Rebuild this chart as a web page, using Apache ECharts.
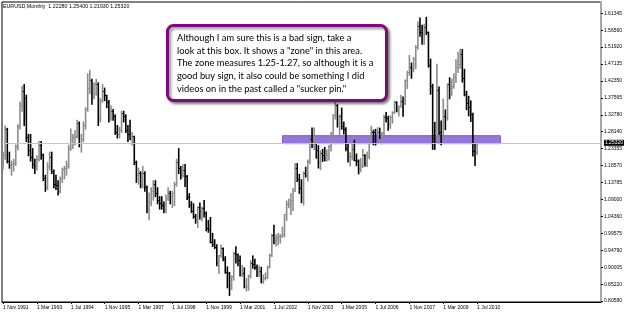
<!DOCTYPE html>
<html>
<head>
<meta charset="utf-8">
<script src="https://cdn.jsdelivr.net/npm/echarts@6/dist/echarts.min.js"></script>
<style>html,body{margin:0;padding:0;background:#fff}#c{width:625px;height:313px}</style>
</head>
<body>
<div id="c"></div>
<script>
// ---- data (EURUSD monthly, Nov 1991 .. Jul 2010) ----
const startYear = 1991, startMonth = 10; // Nov 1991 (0-based month)
const opens = [
1.185,1.215,
1.288,1.200,1.187,1.190,1.192,1.240,1.297,1.355,1.395,1.375,1.265,1.230,
1.210,1.190,1.185,1.205,1.245,1.215,1.150,1.125,1.185,1.210,1.170,1.135,
1.130,1.115,1.150,1.175,1.180,1.185,1.235,1.250,1.265,1.270,1.305,1.250,
1.260,1.300,1.345,1.405,1.425,1.390,1.415,1.415,1.320,1.370,1.395,1.385,
1.365,1.320,1.340,1.325,1.280,1.275,1.285,1.335,1.325,1.285,1.275,1.265,
1.270,1.195,1.160,1.165,1.130,1.165,1.125,1.065,1.085,1.115,1.135,1.110,
1.090,1.080,1.075,1.060,1.095,1.110,1.100,1.110,1.135,1.195,1.180,1.160,
1.1743,1.1572,1.0977,1.0761,1.0585,1.0455,1.0359,1.0691,1.0596,1.0675,1.0541,1.0094,
1.0075,0.9720,0.9648,0.9573,0.9130,0.9341,0.9532,0.9242,0.8880,0.8835,0.8500,0.8746,
0.9390,0.9364,0.9215,0.8811,0.8855,0.8447,0.8490,0.8762,0.9115,0.9102,0.9005,0.8879,
0.8904,0.8609,0.8691,0.8721,0.9011,0.9335,0.9915,0.9776,0.9826,0.9868,0.9875,0.9928,
1.0487,1.0768,1.0786,1.0906,1.1174,1.1788,1.1492,1.1234,1.0989,1.1649,1.1583,1.1978,
1.2597,1.2441,1.2483,1.2293,1.1972,1.2210,1.2164,1.2026,1.2170,1.2418,1.2763,1.3269,
1.3554,1.3048,1.3256,1.2962,1.2876,1.2342,1.2098,1.2126,1.2339,1.2020,1.1993,1.1791,
1.1842,1.2158,1.1922,1.2119,1.2621,1.2805,1.2793,1.2757,1.2806,1.2685,1.2770,1.3236,
1.3200,1.3025,1.3230,1.3354,1.3648,1.3450,1.3542,1.3687,1.3627,1.4263,1.4488,1.4633,
1.4593,1.4862,1.5185,1.5784,1.5607,1.5554,1.5750,1.5602,1.4673,1.4096,1.2728,1.2693,
1.3972,1.2801,1.2665,1.3249,1.3236,1.4159,1.4027,1.4100,1.4335,1.4637,1.4716,1.5004,
1.4318,1.3866,1.3624,1.3510,1.3295,1.2270,1.2228
];
const highs = [
1.225,1.298,
1.292,1.225,1.200,1.205,1.245,1.302,1.365,1.410,1.415,1.385,1.275,1.275,
1.235,1.205,1.215,1.255,1.255,1.220,1.160,1.195,1.225,1.225,1.175,1.160,
1.145,1.155,1.180,1.185,1.200,1.245,1.290,1.275,1.285,1.315,1.310,1.275,
1.310,1.350,1.445,1.455,1.430,1.420,1.430,1.420,1.375,1.415,1.405,1.385,
1.370,1.355,1.345,1.330,1.300,1.295,1.340,1.340,1.330,1.300,1.315,1.280,
1.270,1.200,1.180,1.170,1.185,1.170,1.130,1.110,1.125,1.145,1.145,1.125,
1.100,1.100,1.085,1.105,1.125,1.115,1.115,1.140,1.205,1.235,1.185,1.190,
1.1906,1.1595,1.1085,1.0860,1.0800,1.0500,1.0720,1.0825,1.0700,1.0890,1.0570,1.0330,
1.0415,0.9970,0.9790,0.9650,0.9350,0.9640,0.9555,0.9315,0.9025,0.8870,0.8770,0.9440,
0.9595,0.9390,0.9335,0.9070,0.9000,0.8700,0.8800,0.9200,0.9335,0.9245,0.9080,0.9050,
0.9015,0.8800,0.8860,0.9050,0.9385,0.9940,1.0195,0.9920,0.9965,0.9935,1.0140,1.0500,
1.0875,1.0930,1.1080,1.1230,1.1935,1.1930,1.1625,1.1475,1.1690,1.1825,1.2030,1.2645,
1.2930,1.2930,1.2490,1.2430,1.2290,1.2330,1.2385,1.2310,1.2440,1.2810,1.3305,1.3666,
1.3585,1.3290,1.3490,1.3095,1.2935,1.2480,1.2235,1.2480,1.2585,1.2195,1.2030,1.2075,
1.2325,1.2175,1.2255,1.2650,1.2980,1.2865,1.2890,1.2935,1.2925,1.2810,1.3290,1.3365,
1.3260,1.3270,1.3385,1.3680,1.3665,1.3550,1.3850,1.3800,1.4280,1.4525,1.4965,1.4755,
1.4910,1.5245,1.5905,1.6020,1.5815,1.5845,1.6038,1.5625,1.4865,1.4155,1.3085,1.4719,
1.4080,1.3125,1.3740,1.3435,1.4170,1.4340,1.4305,1.4450,1.4845,1.5060,1.5144,1.5135,
1.4580,1.3960,1.3820,1.3690,1.3345,1.2470,1.2540
];
const lows = [
1.178,1.205,
1.195,1.180,1.160,1.172,1.188,1.232,1.290,1.340,1.300,1.255,1.215,1.200,
1.180,1.165,1.175,1.200,1.205,1.145,1.115,1.120,1.175,1.165,1.125,1.120,
1.105,1.110,1.140,1.150,1.160,1.180,1.230,1.235,1.245,1.265,1.240,1.225,
1.255,1.290,1.340,1.390,1.360,1.375,1.385,1.300,1.310,1.365,1.370,1.350,
1.310,1.315,1.315,1.275,1.265,1.265,1.280,1.310,1.280,1.255,1.260,1.245,
1.190,1.140,1.135,1.125,1.125,1.115,1.055,1.035,1.075,1.090,1.100,1.080,
1.065,1.065,1.055,1.055,1.090,1.080,1.070,1.075,1.130,1.165,1.150,1.155,
1.1285,1.0920,1.0700,1.0555,1.0395,1.0255,1.0135,1.0375,1.0320,1.0430,1.0040,1.0000,
0.9706,0.9600,0.9540,0.9060,0.8840,0.9300,0.9200,0.8850,0.8440,0.8228,0.8390,0.8655,
0.9140,0.9060,0.8770,0.8760,0.8440,0.8348,0.8370,0.8720,0.8990,0.8960,0.8755,0.8760,
0.8580,0.8565,0.8660,0.8700,0.9000,0.9320,0.9680,0.9615,0.9650,0.9695,0.9860,0.9870,
1.0335,1.0690,1.0500,1.0615,1.1145,1.1425,1.1095,1.0830,1.0762,1.1550,1.1440,1.1930,
1.2380,1.2325,1.2080,1.1805,1.1760,1.1990,1.2005,1.2000,1.2030,1.2280,1.2740,1.3180,
1.2955,1.2725,1.2895,1.2765,1.2290,1.1975,1.1870,1.2035,1.2010,1.1870,1.1640,1.1700,
1.1820,1.1860,1.1850,1.2065,1.2565,1.2460,1.2450,1.2720,1.2640,1.2485,1.2730,1.3100,
1.2865,1.2925,1.3065,1.3335,1.3385,1.3265,1.3515,1.3260,1.3590,1.4040,1.4410,1.4325,
1.4510,1.4595,1.5140,1.5505,1.5285,1.5285,1.5555,1.4640,1.3880,1.2330,1.2329,1.2580,
1.2745,1.2456,1.2510,1.2885,1.3150,1.3750,1.3845,1.4045,1.4210,1.4485,1.4610,1.4220,
1.3835,1.3445,1.3270,1.3115,1.2143,1.1876,1.2193
];
const closes = [
1.215,1.288,
1.200,1.187,1.190,1.192,1.240,1.297,1.355,1.395,1.375,1.265,1.230,1.210,
1.190,1.185,1.205,1.245,1.215,1.150,1.125,1.185,1.210,1.170,1.135,1.130,
1.115,1.150,1.175,1.180,1.185,1.235,1.250,1.265,1.270,1.305,1.250,1.260,
1.300,1.345,1.405,1.425,1.390,1.415,1.415,1.320,1.370,1.395,1.385,1.365,
1.320,1.340,1.325,1.280,1.275,1.285,1.335,1.325,1.285,1.275,1.265,1.270,
1.195,1.160,1.165,1.130,1.165,1.125,1.065,1.085,1.115,1.135,1.110,1.090,
1.080,1.075,1.060,1.095,1.110,1.100,1.110,1.135,1.195,1.180,1.160,1.1743,
1.1572,1.0977,1.0761,1.0585,1.0455,1.0359,1.0691,1.0596,1.0675,1.0541,1.0094,1.0075,
0.9720,0.9648,0.9573,0.9130,0.9341,0.9532,0.9242,0.8880,0.8835,0.8500,0.8746,0.9390,
0.9364,0.9215,0.8811,0.8855,0.8447,0.8490,0.8762,0.9115,0.9102,0.9005,0.8879,0.8904,
0.8609,0.8691,0.8721,0.9011,0.9335,0.9915,0.9776,0.9826,0.9868,0.9875,0.9928,1.0487,
1.0768,1.0786,1.0906,1.1174,1.1788,1.1492,1.1234,1.0989,1.1649,1.1583,1.1978,1.2597,
1.2441,1.2483,1.2293,1.1972,1.2210,1.2164,1.2026,1.2170,1.2418,1.2763,1.3269,1.3554,
1.3048,1.3256,1.2962,1.2876,1.2342,1.2098,1.2126,1.2339,1.2020,1.1993,1.1791,1.1842,
1.2158,1.1922,1.2119,1.2621,1.2805,1.2793,1.2757,1.2806,1.2685,1.2770,1.3236,1.3200,
1.3025,1.3230,1.3354,1.3648,1.3450,1.3542,1.3687,1.3627,1.4263,1.4488,1.4633,1.4593,
1.4862,1.5185,1.5784,1.5607,1.5554,1.5750,1.5602,1.4673,1.4096,1.2728,1.2693,1.3972,
1.2801,1.2665,1.3249,1.3236,1.4159,1.4027,1.4100,1.4335,1.4637,1.4716,1.5004,1.4318,
1.3866,1.3624,1.3510,1.3295,1.2270,1.2235,1.2532
];
const xTickLabels = ["1 Nov 1991","1 Mar 1993","1 Jul 1994","1 Nov 1995","1 Mar 1997","1 Jul 1998",
  "1 Nov 1999","1 Mar 2001","1 Jul 2002","1 Nov 2003","1 Mar 2005","1 Jul 2006","1 Nov 2007","1 Mar 2009","1 Jul 2010"];
const yTicks = [0.80580,0.85220,0.90005,0.94790,0.99575,1.04360,1.09000,1.13785,1.18570,1.23355,
  1.28140,1.32780,1.37565,1.42350,1.47135,1.51920,1.56560,1.61345];
const lastPrice = 1.25320;
const zoneLow = 1.2475, zoneHigh = 1.2700;
const zoneStartIndex = 132, zoneEndIndex = 235;
const headerText = "EURUSD,Monthly  1.22280 1.25400 1.21930 1.25320";
const noteLines = [
  'Although I am sure this is a bad sign, take a',
  'look at this box. It shows a "zone" in this area.',
  'The zone measures 1.25-1.27, so although it is a',
  'good buy sign, it also could be something I did',
  'videos on in the past called a "sucker pin."'
];

// ---- build ----
const monthNames = ['Jan','Feb','Mar','Apr','May','Jun','Jul','Aug','Sep','Oct','Nov','Dec'];
const totalSlots = 283; // data months + right-side empty shift
const categories = [];
for (let k = 0; k < totalSlots; k++) {
  const m = startMonth + k;
  categories.push('1 ' + monthNames[m % 12] + ' ' + (startYear + Math.floor(m / 12)));
}
const ohlc = opens.map((o, i) => [i, o, highs[i], lows[i], closes[i]]);
const upColor = '#8c8c8c', downColor = '#000000';
const showTick = (idx, val) => xTickLabels.indexOf(val) >= 0;

const chart = echarts.init(document.getElementById('c'), null, {renderer: 'canvas'});
chart.setOption({
  animation: false,
  backgroundColor: '#ffffff',
  grid: {left: 2, right: 23, top: 2, bottom: 11, show: true, borderColor: '#000', borderWidth: 1, backgroundColor: '#fff'},
  xAxis: {
    type: 'category', data: categories, boundaryGap: true,
    axisLine: {show: true, lineStyle: {color: '#000', width: 1}},
    axisTick: {show: true, alignWithLabel: true, interval: showTick, length: 2, lineStyle: {color: '#000'}},
    axisLabel: {interval: showTick, align: 'left', fontSize: 5, margin: 3, color: '#000', fontFamily: 'Liberation Sans'},
    splitLine: {show: false}
  },
  yAxis: {
    type: 'value', position: 'right', min: 0.8027, max: 1.6455, scale: true,
    splitLine: {show: false},
    axisLine: {show: true, lineStyle: {color: '#a8a8a8', width: 2}},
    axisTick: {show: true, customValues: yTicks, length: 2, lineStyle: {color: '#000'}},
    axisLabel: {customValues: yTicks, formatter: v => v.toFixed(5), fontSize: 5, color: '#000', margin: 3, fontFamily: 'Liberation Sans'}
  },
  series: [
    {
      type: 'line', data: [], z: 1, silent: true,
      markArea: {
        silent: true,
        itemStyle: {color: '#9576dc', borderColor: '#7a5cc8', borderWidth: 1},
        data: [[{xAxis: zoneStartIndex, yAxis: zoneHigh}, {xAxis: zoneEndIndex, yAxis: zoneLow}]]
      },
      markLine: {
        silent: true, symbol: 'none',
        lineStyle: {color: '#c4c4c4', width: 1, type: 'solid'},
        label: {position: 'end', formatter: () => lastPrice.toFixed(5), backgroundColor: '#000', color: '#fff',
                fontSize: 5, fontFamily: 'Liberation Sans', padding: [1, 1, 0, 1], distance: 3},
        data: [{yAxis: lastPrice}]
      }
    },
    {
      type: 'custom', z: 3, silent: true,
      data: ohlc,
      encode: {x: 0, y: [1, 2, 3, 4]},
      renderItem: function (params, api) {
        const i = api.value(0), o = api.value(1), h = api.value(2), l = api.value(3), c = api.value(4);
        const pH = api.coord([i, h]), pL = api.coord([i, l]), pO = api.coord([i, o]), pC = api.coord([i, c]);
        const x = pH[0];
        const col = c >= o ? upColor : downColor;
        const yo = Math.round(pO[1]) + 0.5, yc = Math.round(pC[1]) + 0.5;
        return {type: 'group', children: [
          {type: 'line', shape: {x1: x, y1: pH[1], x2: x, y2: pL[1] + 1}, style: {stroke: col, lineWidth: 1.6}},
          {type: 'line', shape: {x1: x - 1.5, y1: yo, x2: x, y2: yo}, style: {stroke: col, lineWidth: 1}},
          {type: 'line', shape: {x1: x, y1: yc, x2: x + 1.5, y2: yc}, style: {stroke: col, lineWidth: 1}}
        ]};
      }
    }
  ],
  graphic: [
    {type: 'text', left: 3, top: 4, z: 10, style: {text: headerText, font: '5.3px "Liberation Sans"', fill: '#000'}},
    {type: 'rect', z: 20, shape: {x: 167.5, y: 25.5, width: 219, height: 75, r: 6},
     style: {fill: '#fff', stroke: '#7d0a7d', lineWidth: 3, shadowBlur: 3, shadowOffsetX: 2, shadowOffsetY: 2, shadowColor: 'rgba(0,0,0,0.45)'}},
    {type: 'text', z: 21, x: 177, y: 31.3,
     style: {text: noteLines.join('\n'), font: '9.3px Lato', lineHeight: 12.8, fill: '#000', verticalAlign: 'top'}}
  ]
});
</script>
</body>
</html>
